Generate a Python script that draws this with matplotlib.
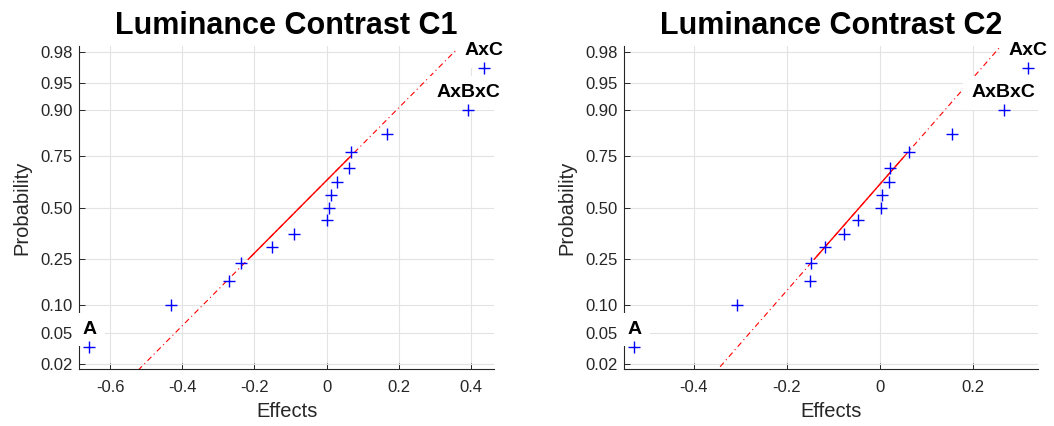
import numpy as np
import matplotlib
matplotlib.use('Agg')
import matplotlib.pyplot as plt
from statistics import NormalDist

plt.rcParams['font.family'] = ['Liberation Sans', 'DejaVu Sans']

# sorted effect estimates
effects_c1 = [-0.658, -0.4325, -0.270, -0.238, -0.150, -0.090, 0.002, 0.006,
              0.013, 0.030, 0.063, 0.067, 0.166, 0.393, 0.437]
effects_c2 = [-0.528, -0.3065, -0.150, -0.148, -0.119, -0.078, -0.048, 0.001,
              0.004, 0.019, 0.021, 0.062, 0.155, 0.265, 0.317]
# rank -> label of the effects that stand out
labels_c1 = {0: 'A', 13: 'AxBxC', 14: 'AxC'}
labels_c2 = {0: 'A', 13: 'AxBxC', 14: 'AxC'}

titles = ['Luminance Contrast C1', 'Luminance Contrast C2']
prob_ticks = [0.02, 0.05, 0.10, 0.25, 0.50, 0.75, 0.90, 0.95, 0.98]
prob_ticklabels = ['0.02', '0.05', '0.10', '0.25', '0.50', '0.75', '0.90', '0.95', '0.98']
xticks_c1 = [-0.6, -0.4, -0.2, 0, 0.2, 0.4]
xticks_c2 = [-0.4, -0.2, 0, 0.2]

nd = NormalDist()
_ppf = np.vectorize(lambda p: nd.inv_cdf(min(max(p, 1e-12), 1 - 1e-12)), otypes=[float])
_cdf = np.vectorize(nd.cdf, otypes=[float])


def forward(p):
    return _ppf(np.asarray(p, dtype=float))


def inverse(z):
    return _cdf(np.asarray(z, dtype=float))


def quantile(sorted_x, q):
    # percentile using plotting positions (i-0.5)/n, like matlab prctile
    n = len(sorted_x)
    pos = (np.arange(1, n + 1) - 0.5) / n
    return np.interp(q, pos, sorted_x)


def draw_normplot(ax, effects, labels, title, xticks):
    x = np.sort(np.array(effects))
    n = len(x)
    p = (np.arange(1, n + 1) - 0.5) / n

    ax.set_yscale('function', functions=(forward, inverse))

    # reference line through first and third quartile
    q1, q3 = quantile(x, 0.25), quantile(x, 0.75)
    z1, z3 = nd.inv_cdf(0.25), nd.inv_cdf(0.75)
    slope = (z3 - z1) / (q3 - q1)
    xs = np.linspace(-2, 2, 400)
    ax.plot(xs, inverse(z1 + slope * (xs - q1)), color='red', lw=0.8,
            ls=(0, (5, 3, 1, 3)), zorder=3)
    ax.plot([q1, q3], [0.25, 0.75], color='red', lw=1.0, zorder=3)

    ax.plot(x, p, '+', color='blue', ms=8, mew=1.0, zorder=6)

    for i, lab in labels.items():
        ax.annotate(lab, (x[i], p[i]), xytext=(0, 12.5), textcoords='offset points',
                    ha='center', va='center', fontsize=14, fontweight='bold',
                    bbox=dict(facecolor='white', edgecolor='none', pad=6),
                    annotation_clip=False, zorder=5)

    span = x.max() - x.min()
    ax.set_xlim(x.min() - 0.025 * span, x.max() + 0.025 * span)
    ax.set_ylim(0.25 / n, 1 - 0.25 / n)
    ax.set_xticks(xticks)
    ax.set_xticklabels(['%g' % t for t in xticks])
    ax.set_yticks(prob_ticks)
    ax.set_yticklabels(prob_ticklabels)
    ax.minorticks_off()

    ax.grid(True, color='#e3e3e3', lw=0.8)
    ax.set_axisbelow(True)
    for side in ['top', 'right']:
        ax.spines[side].set_visible(False)
    for side in ['left', 'bottom']:
        ax.spines[side].set_color('#262626')
        ax.spines[side].set_linewidth(0.8)
    ax.tick_params(axis='both', direction='in', length=4, width=0.7,
                   colors='#262626', labelsize=12)
    ax.tick_params(axis='x', pad=8)
    ax.tick_params(axis='y', pad=5)

    ax.set_title(title, fontsize=22, fontweight='bold', pad=9)
    ax.set_xlabel('Effects', fontsize=14.5, color='#262626', labelpad=5)
    ax.set_ylabel('Probability', fontsize=14.5, color='#262626', labelpad=6)


fig = plt.figure(figsize=(10.54, 4.26), dpi=100)
ax1 = fig.add_axes([0.0752, 0.1331, 0.3937, 0.7589])
ax2 = fig.add_axes([0.5923, 0.1331, 0.3922, 0.7589])

draw_normplot(ax1, effects_c1, labels_c1, titles[0], xticks_c1)
draw_normplot(ax2, effects_c2, labels_c2, titles[1], xticks_c2)

fig.savefig('out.png', dpi=100)
